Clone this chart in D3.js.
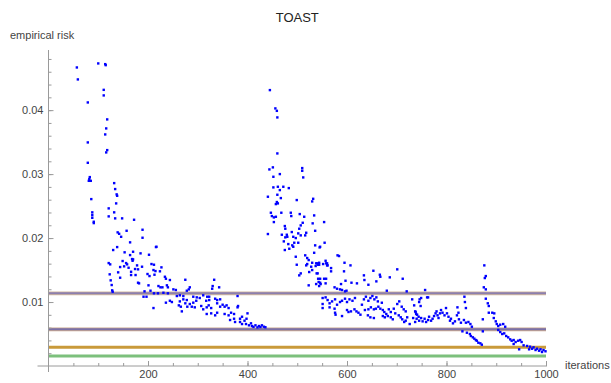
<!DOCTYPE html>
<html>
<head>
<meta charset="utf-8">
<script src="https://cdnjs.cloudflare.com/ajax/libs/d3/7.8.5/d3.min.js"></script>
<style>
  body { margin: 0; background: #fff; }
  text { font-family: "Liberation Sans", Arial, sans-serif; }
</style>
</head>
<body>
<div id="chart"></div>
<script>
const width = 611
const height = 383

// reference levels drawn as horizontal lines
const levels = [0.01136, 0.00573, 0.00292, 0.00156]
const levelEdge = ["#d2b89e", "#c9a890", "#c99a3a", "#7cc07c"]
const levelCore = ["#8c7fae", "#7a70a8", "#c99a3a", "#6bb86b"]

const xTicks = [200, 400, 600, 800, 1000]
const yTicks = [0.01, 0.02, 0.03, 0.04]

// [iteration, empirical risk]
const firstDrop = [[57,.04667],[59,.0448],[100,.0473],[114,.04719],[115,.04703],[111,.04317],[111,.0423],
  [79,.0412],[118,.03855],[116,.03714],[114,.0362],[79,.03495],[118,.03375],[116,.03339],[79,.03177],
  [83,.02953],[82,.02922],[85,.02895],[81,.02895],[86,.02609],[88,.02402],[88,.02359],[88,.02317],
  [91,.02255],[91,.02234],[132,.02859],[134,.02766],[137,.02683],[138,.02661],[136,.02542],[121,.02464],
  [132,.02402],[121,.02339],[134,.02308],[148,.02308],[172,.02286],[139,.02089],[142,.02067],[146,.0202],
  [157,.02114],[164,.01933],[138,.01859],[130,.01813],[153,.01777],[170,.01786],[164,.01734],[168,.01672],
  [121,.01609],[124,.01589],[149,.01641],[156,.01609],[158,.01589],[152,.01558],[144,.01547],[161,.01536],
  [140,.01464],[166,.01473],[166,.01422],[123,.01433],[144,.0138],[125,.01339],[127,.01266],[128,.01183],
  [129,.01161]]

const firstDecay = [[189,.0213],[189,.02005],[185,.01761],[202,.01739],[170,.01667],[169,.01645],
  [217,.01864],[216,.01859],[207,.01594],[212,.01583],[178,.01573],[188,.01552],[227,.01542],[174,.01516],
  [180,.01511],[211,.015],[215,.01484],[224,.0148],[199,.01438],[203,.01406],[175,.01422],[213,.01427],
  [234,.01395],[236,.01364],[244,.01344],[275,.01348],[333,.01348],[180,.01302],[182,.01292],[201,.01261],
  [221,.0125],[225,.0123],[229,.0123],[238,.01261],[240,.0123],[251,.01198],[256,.01188],[284,.0123],
  [282,.01198],[278,.01177],[330,.0125],[329,.01208],[343,.0123],[193,.01167],[205,.01177],[212,.01136],
  [220,.01136],[231,.01145],[240,.01136],[191,.01083],[197,.01083],[258,.01094],[264,.01105],[271,.01094],
  [291,.01083],[298,.01073],[304,.01063],[311,.01105],[319,.01083],[323,.01083],[380,.01094],[236,.0099],
  [244,.0102],[248,.01],[264,.0101],[271,.01042],[278,.01031],[284,.00969],[291,.0099],[297,.0102],
  [317,.0102],[323,.01031],[335,.01052],[339,.01031],[345,.01042],[262,.00948],[266,.00927],[275,.0098],
  [279,.00927],[288,.00927],[294,.00917],[307,.00938],[311,.00886],[318,.00917],[322,.00948],[327,.00906],
  [339,.0098],[345,.00927],[350,.00958],[354,.00927],[358,.00948],[362,.00906],[211,.00906],[268,.00854],
  [318,.00813],[327,.00823],[335,.00792],[339,.00833],[354,.00813],[362,.00792],[367,.00833],[373,.00813],
  [381,.00938],[380,.00917],[373,.00739],[365,.00719],[375,.00688],[385,.00739],[389,.0077],[394,.00708],
  [398,.00739],[400,.00823],[385,.00688],[389,.00656],[397,.00656],[403,.00636],[407,.00667],[409,.00625],
  [416,.00636],[423,.00625],[429,.00636],[433,.00614],[412,.00612],[420,.00604],[426,.0061],[436,.00606]]

const secondDrop = [[445,.04313],[456,.04027],[459,.03989],[460,.03886],[460,.03323],[444,.03073],
  [451,.03105],[510,.03094],[510,.03052],[465,.03],[452,.02958],[512,.02948],[452,.02792],[461,.02802],
  [472,.02802],[483,.02781],[465,.0275],[460,.02677],[467,.02625],[441,.02646],[459,.02563],[461,.02542],
  [457,.02531],[499,.02594],[532,.02614],[530,.02573],[447,.02396],[449,.02344],[453,.02323],[457,.02333],
  [453,.0225],[468,.02396],[487,.02396],[488,.02344],[505,.02375],[514,.02333],[534,.02354],[475,.02188],
  [476,.02146],[507,.02198],[511,.02239],[504,.02146],[531,.0223],[554,.0225],[441,.02063],[469,.02052],
  [479,.02052],[480,.0202],[476,.02011],[489,.02094],[492,.0202],[497,.02],[502,.02073],[507,.02042],
  [516,.02042],[518,.02083],[536,.02114],[473,.01948],[482,.01906],[490,.01886],[494,.01927],[502,.01927],
  [475,.01813],[484,.01833],[492,.01864],[536,.01886],[546,.01864],[555,.01927],[534,.0177],[497,.01708],
  [516,.0173],[520,.01688],[523,.01656],[499,.01583],[518,.01573],[520,.01594],[530,.01614],[528,.01552],
  [538,.01605],[542,.01583],[544,.01614],[552,.01594],[558,.01605],[560,.01573],[507,.01448],[504,.01417],
  [524,.01469],[530,.015],[539,.01448],[546,.01364],[543,.01313],[547,.01281],[554,.01364],[557,.01292],
  [523,.01261],[538,.01281],[551,.01063],[557,.01073]]

const secondDecay = [[545,.01854],[540,.01605],[544,.01583],[537,.01563],[557,.01645],[560,.01605],
  [561,.01573],[568,.01531],[568,.0148],[581,.0173],[584,.01719],[595,.01614],[607,.01573],[594,.0148],
  [541,.01448],[542,.01364],[546,.01302],[544,.0125],[558,.01364],[588,.01281],[597,.01333],[609,.01302],
  [620,.01292],[634,.01417],[635,.01344],[643,.0127],[653,.01489],[659,.01323],[666,.01427],[667,.01395],
  [686,.01386],[701,.01511],[712,.01364],[575,.0123],[580,.01208],[586,.01198],[590,.01188],[596,.01167],
  [599,.01177],[680,.01177],[720,.01167],[551,.00969],[551,.00906],[561,.01031],[565,.0098],[570,.0101],
  [576,.01042],[565,.00917],[575,.00896],[580,.00958],[586,.01],[590,.0102],[596,.01052],[600,.01],
  [605,.01042],[611,.0102],[616,.01063],[576,.00833],[577,.00802],[590,.00781],[600,.00875],[603,.00844],
  [608,.00854],[615,.00886],[619,.00854],[623,.00833],[627,.00802],[630,.00958],[634,.01042],[638,.01083],
  [643,.0102],[647,.01063],[651,.01094],[655,.01042],[659,.01073],[662,.0101],[636,.00875],[643,.00886],
  [648,.00917],[654,.00886],[658,.00896],[663,.00927],[667,.00896],[670,.00989],[642,.00792],[647,.00761],
  [654,.0075],[672,.00875],[675,.00844],[679,.00813],[684,.00886],[688,.00844],[694,.00896],[697,.00823],
  [672,.00781],[676,.00761],[682,.00781],[688,.00761],[692,.0073],[701,.00969],[705,.0101],[710,.00927],
  [714,.00886],[718,.00854],[704,.00792],[708,.00761],[711,.0073],[715,.00688],[718,.00708],[721,.00761],
  [726,.00656],[731,.01042],[735,.00948],[737,.00854],[739,.00813],[733,.0075],[737,.00688],[757,.01188],
  [746,.01042],[749,.01063],[745,.01],[748,.00938],[761,.01073],[763,.01073],[738,.00844],[741,.00802],
  [744,.0077],[740,.00739],[745,.00708],[749,.0075],[752,.00698],[756,.00739],[759,.00688],[763,.00719],
  [765,.0077],[769,.00708],[772,.00739],[775,.00781],[778,.00823],[780,.00854],[782,.00792],[784,.0075],
  [787,.00823],[789,.00875],[792,.00833],[796,.00792],[799,.00906],[801,.00823],[804,.0077],[807,.00708],
  [809,.00739],[813,.00667],[817,.00698],[821,.00792],[824,.00833],[822,.00917],[825,.0073],[829,.00677],
  [836,.01083],[837,.01],[839,.00906],[835,.00719],[839,.00677],[844,.00688],[848,.00656],[851,.00614],
  [832,.00542],[841,.0052],[847,.005],[849,.00469],[853,.00448],[856,.00427],[859,.00406],[861,.00395],
  [864,.00364],[868,.00355],[871,.00333]]

const thirdDrop = [[876,.01573],[879,.01406],[877,.01375],[875,.0123],[879,.01198],[879,.01052],
  [883,.0098],[885,.00938],[873,.0073],[885,.00833],[892,.00833],[896,.00823],[895,.0075],[899,.00698],
  [901,.00656],[904,.00625],[873,.00542],[908,.00646],[914,.00656],[918,.00614],[904,.00563],[908,.00531],
  [912,.005],[916,.0051],[920,.00469],[924,.00448],[928,.00417],[931,.00395],[935,.00406],[939,.00375],
  [944,.00395],[948,.00406],[951,.00375],[935,.00344],[946,.00261],[955,.00323],[962,.00313],[968,.00302],
  [975,.00292],[982,.0027],[989,.00261],[995,.0025],[999,.0023],[992,.00219],[986,.00239],[979,.0025],
  [972,.0027],[966,.00261]]

const points = [].concat(firstDrop, firstDecay, secondDrop, secondDecay, thirdDrop)

const svg = d3.select("#chart").append("svg")
  .attr("width", width)
  .attr("height", height)

const x = d3.scaleLinear().domain([0, 1000]).range([48.5, 546])
const y = d3.scaleLinear().domain([0, 0.0494]).range([366, 50])

const axisColor = "#9a9a9a"
const textColor = "#444"

// horizontal reference lines
levels.forEach(function(v, i) {
  svg.append("line")
    .attr("x1", x(0)).attr("x2", x(1000))
    .attr("y1", y(v)).attr("y2", y(v))
    .attr("stroke", levelEdge[i])
    .attr("stroke-width", i < 2 ? 3.6 : 3)
  if (i < 2) {
    svg.append("line")
      .attr("x1", x(0)).attr("x2", x(1000))
      .attr("y1", y(v)).attr("y2", y(v))
      .attr("stroke", levelCore[i])
      .attr("stroke-width", 2)
  }
})

// scatter
svg.append("g")
  .selectAll("rect")
  .data(points)
  .enter().append("rect")
  .attr("x", function(d) { return x(d[0]) - 1.2 })
  .attr("y", function(d) { return y(d[1]) - 1.2 })
  .attr("width", 2.4)
  .attr("height", 2.4)
  .attr("fill", "#0000ff")

// x axis: minor ticks then major ticks with labels
const xMinor = d3.range(50, 1001, 50)
const xAxisG = svg.append("g").attr("transform", "translate(0," + y(0) + ")")
xAxisG.call(d3.axisBottom(x).tickValues(xMinor).tickSize(-3).tickFormat(""))
xAxisG.append("g").call(d3.axisBottom(x).tickValues(xTicks).tickSize(-5).tickPadding(4).tickFormat(d3.format("d")))
xAxisG.selectAll(".domain").remove()
xAxisG.selectAll("line").attr("stroke", axisColor)
xAxisG.selectAll("text").attr("fill", textColor).style("font-size", "11px")
xAxisG.append("line")
  .attr("x1", x(0) - 11).attr("x2", x(1000) + 1)
  .attr("stroke", axisColor)

// y axis
const yMinor = d3.range(0.002, 0.049, 0.002)
const yAxisG = svg.append("g").attr("transform", "translate(" + x(0) + ",0)")
yAxisG.call(d3.axisLeft(y).tickValues(yMinor).tickSize(-3).tickFormat(""))
yAxisG.append("g").call(d3.axisLeft(y).tickValues(yTicks).tickSize(-5).tickPadding(5).tickFormat(d3.format(".2f")))
yAxisG.selectAll(".domain").remove()
yAxisG.selectAll("line").attr("stroke", axisColor)
yAxisG.selectAll("text").attr("fill", textColor).style("font-size", "11px")
yAxisG.append("line")
  .attr("y1", y(0) + 6).attr("y2", y.range()[1])
  .attr("stroke", axisColor)

// labels
svg.append("text")
  .attr("x", 10).attr("y", 39)
  .attr("fill", textColor)
  .style("font-size", "11px")
  .text("empirical risk")

svg.append("text")
  .attr("x", 565).attr("y", 369)
  .attr("fill", textColor)
  .style("font-size", "11px")
  .text("iterations")

svg.append("text")
  .attr("x", (x(0) + x(1000)) / 2).attr("y", 22)
  .attr("text-anchor", "middle")
  .attr("fill", "#222")
  .style("font-size", "13px")
  .text("TOAST")
</script>
</body>
</html>
